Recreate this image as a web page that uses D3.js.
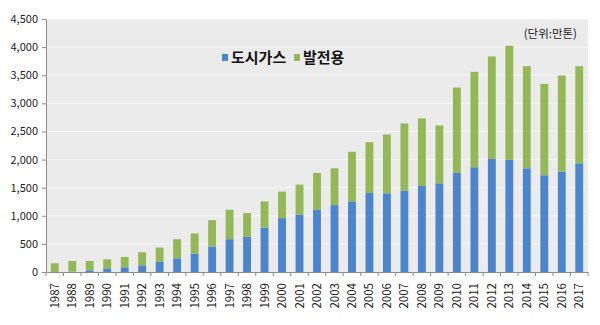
<!DOCTYPE html>
<html>
<head>
<meta charset="utf-8">
<script src="https://cdn.jsdelivr.net/npm/d3@7"></script>
<style>
  body { margin: 0; background: #fff; }
  text { font-family: "Noto Sans CJK KR", "Noto Sans", sans-serif; }
</style>
</head>
<body>
<div id="chart"></div>
<script>
// data (만톤)
const years = d3.range(1987, 2018).map(String);
const cityGas = [0, 5, 30, 65, 84, 119, 179, 244, 327, 452, 583, 625, 792, 958, 1024, 1113, 1190, 1256, 1405, 1400,
  1446, 1530, 1577, 1762, 1863, 2012, 1994, 1845, 1720, 1786, 1934];
const totals = [155, 195, 195, 226, 268, 351, 434, 583, 685, 923, 1107, 1048, 1256, 1429, 1554, 1762, 1845, 2137, 2309, 2447,
  2643, 2732, 2607, 3280, 3560, 3834, 4024, 3661, 3345, 3495, 3661];
const power = totals.map((t, i) => t - cityGas[i]);
const yTicks = d3.range(0, 4501, 500);

const W = 600, H = 325;
const margin = {top: 19, right: 12, bottom: 53, left: 46},
    width = W - margin.left - margin.right,
    height = H - margin.top - margin.bottom;

const svg = d3.select("#chart").append("svg")
    .attr("width", W)
    .attr("height", H);

const g = svg.append("g")
    .attr("transform", `translate(${margin.left}, ${margin.top})`);

const x = d3.scaleBand()
    .domain(years)
    .range([0, width])
    .paddingInner(0.55)
    .paddingOuter(0.275);

const y = d3.scaleLinear()
    .domain([0, 4500])
    .range([height, 0]);

// plot background + grid
g.append("rect")
    .attr("width", width)
    .attr("height", height)
    .attr("fill", "#ebebeb");

g.selectAll(".grid")
  .data(yTicks.slice(1))
  .enter()
  .append("line")
    .attr("x1", 0)
    .attr("x2", width)
    .attr("y1", d => y(d))
    .attr("y2", d => y(d))
    .attr("stroke", "#f6f6f6")
    .attr("stroke-width", 1);

// stacked bars
const rows = years.map((yr, i) => ({year: yr, gas: cityGas[i], power: power[i]}));
const stack = d3.stack().keys(["gas", "power"])(rows);
const colors = {gas: "#4a86d0", power: "#93b954"};

g.selectAll(".series")
  .data(stack)
  .enter()
  .append("g")
    .attr("fill", d => colors[d.key])
  .selectAll("rect")
  .data(d => d)
  .enter()
  .append("rect")
    .attr("x", d => x(d.data.year))
    .attr("y", d => y(d[1]))
    .attr("width", x.bandwidth())
    .attr("height", d => y(d[0]) - y(d[1]));

// Y axis
const yAxis = g.append("g")
    .call(d3.axisLeft(y).tickValues(yTicks).tickFormat(d3.format(",")).tickSize(4).tickSizeOuter(0));
yAxis.select(".domain").attr("stroke", "#8c8c8c");
yAxis.selectAll(".tick line").attr("stroke", "#8c8c8c");
yAxis.selectAll("text")
    .attr("font-size", 11)
    .attr("fill", "#222")
    .attr("x", -8);

// X axis
const xAxis = g.append("g")
    .attr("transform", `translate(0, ${height})`)
    .call(d3.axisBottom(x).tickSize(0).tickSizeOuter(0));
xAxis.select(".domain").attr("stroke", "#8c8c8c");
xAxis.selectAll("text")
    .attr("font-size", 11.5)
    .attr("fill", "#222")
    .attr("transform", "rotate(-90)")
    .attr("x", -11)
    .attr("y", 0)
    .attr("dy", "0.35em")
    .style("text-anchor", "end");

// tick marks between categories
const step = x.step();
xAxis.selectAll(".sep")
  .data(d3.range(years.length + 1))
  .enter()
  .append("line")
    .attr("x1", i => i * step)
    .attr("x2", i => i * step)
    .attr("y1", 0)
    .attr("y2", 4)
    .attr("stroke", "#8c8c8c");

// legend
const legend = svg.append("g").attr("transform", "translate(222, 58)");
const legItems = [{key: "gas", label: "도시가스", dx: 0}, {key: "power", label: "발전용", dx: 72}];
legItems.forEach(item => {
  legend.append("rect")
      .attr("x", item.dx)
      .attr("y", -4)
      .attr("width", 6)
      .attr("height", 7)
      .attr("fill", colors[item.key]);
  legend.append("text")
      .attr("x", item.dx + 9)
      .attr("y", 0)
      .attr("dy", "0.35em")
      .attr("font-size", 15)
      .attr("font-weight", "bold")
      .attr("fill", "#111")
      .text(item.label);
});

// unit
svg.append("text")
    .attr("x", 577)
    .attr("y", 38)
    .attr("text-anchor", "end")
    .attr("font-size", 11.5)
    .attr("fill", "#222")
    .text("(단위:만톤)");
</script>
</body>
</html>
